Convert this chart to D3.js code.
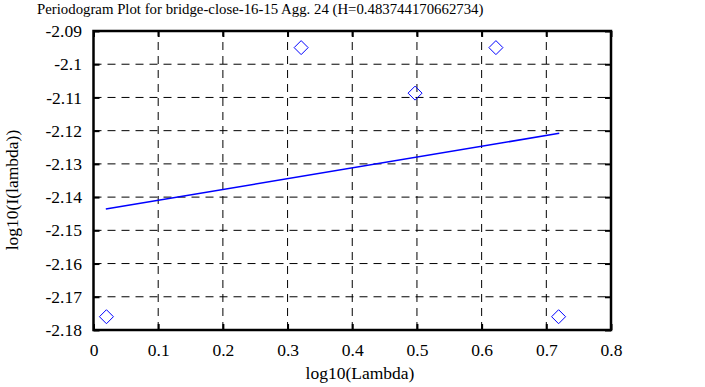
<!DOCTYPE html>
<html>
<head>
<meta charset="utf-8">
<script src="https://cdn.jsdelivr.net/npm/d3@7"></script>
<style>
  body { margin: 0; background: #fff; }
  svg text { font-family: "Liberation Serif", "Times New Roman", Times, serif !important; fill: #000; }
</style>
</head>
<body>
<script>
// periodogram points, log10(lambda) vs log10(I(lambda))
const logLambda = [0.0200, 0.3210, 0.4971, 0.6221, 0.7190];
const logI = [-2.1760, -2.0950, -2.1087, -2.0950, -2.1760];
// least squares fit line, end points
const fitX = [0.0190, 0.7200];
const fitY = [-2.1436, -2.1208];
const xTicks = [0, 0.1, 0.2, 0.3, 0.4, 0.5, 0.6, 0.7, 0.8];
const yTicks = [-2.18, -2.17, -2.16, -2.15, -2.14, -2.13, -2.12, -2.11, -2.1, -2.09];

const W = 705, H = 387;
const m = { left: 93.5, right: 94, top: 31, bottom: 57 };

const svg = d3.select('body').append('svg')
  .attr('width', W)
  .attr('height', H);

const x = d3.scaleLinear().domain([0, 0.8]).range([m.left, W - m.right]);
const y = d3.scaleLinear().domain([-2.18, -2.09]).range([H - m.bottom, m.top]);

// grid
svg.append('g').selectAll('line.gx')
  .data(xTicks.slice(1, -1))
  .join('line')
  .attr('x1', d => x(d)).attr('x2', d => x(d))
  .attr('y1', y.range()[0]).attr('y2', y.range()[1])
  .attr('stroke', '#000').attr('stroke-dasharray', '8,6');
svg.append('g').selectAll('line.gy')
  .data(yTicks.slice(1, -1))
  .join('line')
  .attr('y1', d => y(d)).attr('y2', d => y(d))
  .attr('x1', x.range()[0]).attr('x2', x.range()[1])
  .attr('stroke', '#000').attr('stroke-dasharray', '8,6');

// axes, ticks pointing inwards
const fmt = d => String(d);
svg.append('g')
  .attr('transform', `translate(0,${y.range()[0]})`)
  .call(d3.axisBottom(x).tickValues(xTicks).tickSize(-6).tickPadding(14).tickFormat(fmt))
  .call(g => g.select('.domain').remove());
svg.append('g')
  .attr('transform', `translate(0,${y.range()[1]})`)
  .call(d3.axisTop(x).tickValues(xTicks).tickSize(-6).tickFormat(''))
  .call(g => g.select('.domain').remove());
svg.append('g')
  .attr('transform', `translate(${x.range()[0]},0)`)
  .call(d3.axisLeft(y).tickValues(yTicks).tickSize(-6).tickPadding(11.5).tickFormat(fmt))
  .call(g => g.select('.domain').remove());
svg.append('g')
  .attr('transform', `translate(${x.range()[1]},0)`)
  .call(d3.axisRight(y).tickValues(yTicks).tickSize(-6).tickFormat(''))
  .call(g => g.select('.domain').remove());

svg.selectAll('.tick line').attr('stroke', '#000').attr('stroke-width', 2);
svg.selectAll('.tick text')
  .style('font-size', '17.5px')
  .attr('fill', '#000');

// frame
svg.append('rect')
  .attr('x', x.range()[0]).attr('y', y.range()[1])
  .attr('width', x.range()[1] - x.range()[0])
  .attr('height', y.range()[0] - y.range()[1])
  .attr('fill', 'none').attr('stroke', '#000').attr('stroke-width', 2.5);

// fit line
svg.append('path')
  .datum(d3.zip(fitX, fitY))
  .attr('d', d3.line().x(d => x(d[0])).y(d => y(d[1])))
  .attr('fill', 'none').attr('stroke', '#0000ff').attr('stroke-width', 1.6);

// points
svg.append('g').selectAll('path')
  .data(d3.zip(logLambda, logI))
  .join('path')
  .attr('transform', d => `translate(${x(d[0])},${y(d[1])})`)
  .attr('d', 'M0,-7L7,0L0,7L-7,0Z')
  .attr('fill', 'none').attr('stroke', '#0000ff').attr('stroke-width', 1);

// labels
svg.append('text')
  .attr('x', 37).attr('y', 13.5)
  .style('font-size', '14.8px')
  .text('Periodogram Plot for bridge-close-16-15 Agg. 24 (H=0.483744170662734)');
svg.append('text')
  .attr('x', 360).attr('y', 379)
  .attr('text-anchor', 'middle')
  .style('font-size', '17.5px')
  .text('log10(Lambda)');
svg.append('text')
  .attr('transform', 'translate(18,190) rotate(-90)')
  .attr('text-anchor', 'middle')
  .style('font-size', '17.5px')
  .text('log10(I(lambda))');
</script>
</body>
</html>
